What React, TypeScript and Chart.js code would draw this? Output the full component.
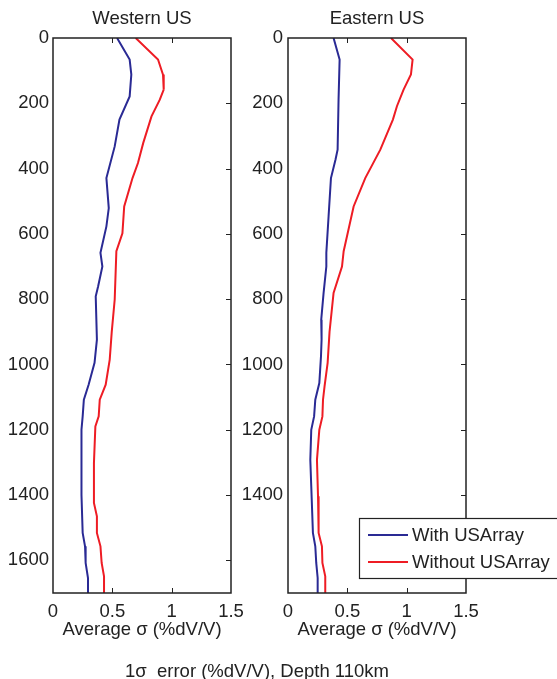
import React, { useEffect, useRef } from "react";
import { Chart, registerables } from "chart.js";
Chart.register(...registerables);

// ---- data ----
const Y_TICKS = [0, 200, 400, 600, 800, 1000, 1200, 1400, 1600];
const X_TICKS = [0, 0.5, 1, 1.5];
const SERIES_LABELS = ["With USArray", "Without USArray"];
const PANEL_TITLES = ["Western US", "Eastern US"];
const X_TITLE = "Average σ (%dV/V)";
const CAPTION = "1σ  error (%dV/V), Depth 110km";

const WEST_WITH_DEPTH = [0, 66, 112, 179, 250, 332, 429, 521, 577, 658, 700, 761, 791, 924, 995, 1062, 1108, 1159, 1200, 1300, 1400, 1516, 1557, 1608, 1654, 1700];
const WEST_WITH = [0.54, 0.646, 0.66, 0.646, 0.56, 0.52, 0.45, 0.47, 0.45, 0.40, 0.416, 0.38, 0.36, 0.37, 0.35, 0.30, 0.26, 0.25, 0.24, 0.24, 0.24, 0.25, 0.27, 0.275, 0.295, 0.295];

const WEST_WITHOUT_DEPTH = [0, 66, 112, 158, 189, 240, 322, 383, 429, 516, 598, 653, 801, 900, 985, 1062, 1108, 1159, 1190, 1302, 1424, 1465, 1516, 1557, 1608, 1649, 1700];
const WEST_WITHOUT = [0.697, 0.885, 0.927, 0.933, 0.90, 0.83, 0.76, 0.716, 0.67, 0.60, 0.585, 0.534, 0.52, 0.495, 0.478, 0.444, 0.394, 0.385, 0.357, 0.345, 0.345, 0.37, 0.37, 0.40, 0.41, 0.43, 0.43];

const EAST_WITH_DEPTH = [0, 66, 189, 342, 373, 429, 546, 658, 700, 781, 863, 924, 975, 1057, 1108, 1159, 1200, 1292, 1373, 1516, 1557, 1608, 1654, 1700];
const EAST_WITH = [0.384, 0.435, 0.426, 0.418, 0.40, 0.362, 0.342, 0.323, 0.323, 0.30, 0.28, 0.283, 0.278, 0.264, 0.23, 0.22, 0.196, 0.188, 0.196, 0.21, 0.23, 0.238, 0.25, 0.25];

const EAST_WITHOUT_DEPTH = [0, 66, 112, 158, 209, 250, 342, 429, 516, 653, 700, 781, 900, 995, 1067, 1108, 1159, 1200, 1292, 1404, 1516, 1557, 1608, 1649, 1700];
const EAST_WITHOUT = [0.868, 1.05, 1.036, 0.974, 0.918, 0.884, 0.778, 0.651, 0.553, 0.469, 0.455, 0.384, 0.35, 0.334, 0.308, 0.295, 0.29, 0.264, 0.244, 0.253, 0.258, 0.286, 0.29, 0.314, 0.314];

// ---- style ----
const W = 557;
const H = 679;
const FONT = '"Liberation Sans", Arial, Helvetica, sans-serif';
const FS = 18.5;
const TEXT = "#222222";
const BLUE = "#2a2a94";
const RED = "#ee1c24";

const toPoints = (depths: number[], vals: number[]) => vals.map((v, i) => ({ x: v, y: depths[i] }));

type PanelCfg = {
  title: string;
  withData: { x: number; y: number }[];
  withoutData: { x: number; y: number }[];
  padLeft: number;
  yWidth: number;
  padRight: number;
  yPad: number;
  hideYLabels: number[];
  caption?: { text: string; x: number; y: number };
  legend?: boolean;
};

function makePanel(canvas: HTMLCanvasElement, cfg: PanelCfg) {
  const plugin = {
    id: "panelDeco",
    afterDraw(chart: any) {
      const ctx = chart.ctx;
      const a = chart.chartArea;
      const xs = chart.scales.x;
      const ys = chart.scales.y;
      ctx.save();
      ctx.strokeStyle = TEXT;
      ctx.lineWidth = 1.5;
      ctx.strokeRect(a.left, a.top, a.right - a.left, a.bottom - a.top);
      ctx.lineWidth = 1;
      const tl = 5;
      ctx.beginPath();
      X_TICKS.slice(1, -1).forEach((v) => {
        const px = Math.round(xs.getPixelForValue(v)) + 0.5;
        ctx.moveTo(px, a.top);
        ctx.lineTo(px, a.top + tl);
        ctx.moveTo(px, a.bottom);
        ctx.lineTo(px, a.bottom - tl);
      });
      Y_TICKS.slice(1).forEach((v) => {
        const py = Math.round(ys.getPixelForValue(v)) + 0.5;
        ctx.moveTo(a.right, py);
        ctx.lineTo(a.right - tl, py);
      });
      ctx.stroke();

      const cx = (a.left + a.right) / 2;
      ctx.fillStyle = TEXT;
      ctx.font = `${FS}px ${FONT}`;
      ctx.textAlign = "center";
      ctx.textBaseline = "alphabetic";
      ctx.fillText(cfg.title, cx, 24);
      ctx.fillText(X_TITLE, cx, 635);
      if (cfg.caption) {
        ctx.textAlign = "left";
        ctx.fillText(cfg.caption.text, cfg.caption.x, cfg.caption.y);
      }
      if (cfg.legend) {
        const bx = 359.5, by = 518.5, bw = 210, bh = 60;
        ctx.fillStyle = "#ffffff";
        ctx.fillRect(bx, by, bw, bh);
        ctx.strokeStyle = TEXT;
        ctx.lineWidth = 1.2;
        ctx.strokeRect(bx, by, bw, bh);
        const rows = [535, 562];
        chart.data.datasets.forEach((ds: any, i: number) => {
          ctx.strokeStyle = ds.borderColor;
          ctx.lineWidth = 2;
          ctx.beginPath();
          ctx.moveTo(368, rows[i]);
          ctx.lineTo(408, rows[i]);
          ctx.stroke();
          ctx.fillStyle = TEXT;
          ctx.textAlign = "left";
          ctx.textBaseline = "middle";
          ctx.fillText(ds.label, 412, rows[i] + 1);
        });
      }
      ctx.restore();
    },
  };

  return new Chart(canvas, {
    type: "scatter",
    data: {
      datasets: [
        {
          label: SERIES_LABELS[0],
          data: cfg.withData,
          showLine: true,
          borderColor: BLUE,
          backgroundColor: BLUE,
          borderWidth: 2,
          pointRadius: 0,
          tension: 0,
        },
        {
          label: SERIES_LABELS[1],
          data: cfg.withoutData,
          showLine: true,
          borderColor: RED,
          backgroundColor: RED,
          borderWidth: 2,
          pointRadius: 0,
          tension: 0,
        },
      ],
    },
    options: {
      responsive: false,
      animation: false,
      devicePixelRatio: 1,
      events: [],
      layout: { padding: { left: cfg.padLeft, right: cfg.padRight, top: 38, bottom: 46 } },
      plugins: { legend: { display: false }, title: { display: false }, tooltip: { enabled: false } },
      scales: {
        x: {
          type: "linear",
          position: "bottom",
          min: 0,
          max: 1.5,
          afterBuildTicks: (s: any) => {
            s.ticks = X_TICKS.map((v) => ({ value: v }));
          },
          afterFit: (s: any) => {
            s.height = 40;
          },
          grid: { display: false, drawTicks: false },
          border: { display: false },
          ticks: {
            padding: 8,
            color: TEXT,
            font: { family: FONT, size: FS },
            maxRotation: 0,
            autoSkip: false,
            callback: (v: any) => String(v),
          },
        },
        y: {
          type: "linear",
          position: "left",
          reverse: true,
          min: 0,
          max: 1700,
          afterBuildTicks: (s: any) => {
            s.ticks = Y_TICKS.map((v) => ({ value: v }));
          },
          afterFit: (s: any) => {
            s.width = cfg.yWidth;
          },
          grid: { display: false, drawTicks: false },
          border: { display: false },
          ticks: {
            padding: cfg.yPad,
            color: TEXT,
            font: { family: FONT, size: FS },
            autoSkip: false,
            callback: (v: any) => (cfg.hideYLabels.includes(Number(v)) ? "" : String(v)),
          },
        },
      },
    },
    plugins: [plugin],
  } as any);
}

export default function App() {
  const refA = useRef<HTMLCanvasElement>(null);
  const refB = useRef<HTMLCanvasElement>(null);

  useEffect(() => {
    const a = makePanel(refA.current!, {
      title: PANEL_TITLES[0],
      withData: toPoints(WEST_WITH_DEPTH, WEST_WITH),
      withoutData: toPoints(WEST_WITHOUT_DEPTH, WEST_WITHOUT),
      padLeft: 0,
      yWidth: 53,
      padRight: W - 231,
      yPad: 4,
      hideYLabels: [],
      caption: { text: CAPTION, x: 125, y: 677 },
    });
    const b = makePanel(refB.current!, {
      title: PANEL_TITLES[1],
      withData: toPoints(EAST_WITH_DEPTH, EAST_WITH),
      withoutData: toPoints(EAST_WITHOUT_DEPTH, EAST_WITHOUT),
      padLeft: 238,
      yWidth: 50,
      padRight: W - 466,
      yPad: 5,
      hideYLabels: [1600],
      legend: true,
    });
    return () => {
      a.destroy();
      b.destroy();
    };
  }, []);

  const cs: React.CSSProperties = { position: "absolute", left: 0, top: 0, width: W, height: H };
  return (
    <div style={{ position: "absolute", left: 0, top: 0, width: W, height: H, background: "#fff", overflow: "hidden" }}>
      <canvas ref={refA} width={W} height={H} style={cs} />
      <canvas ref={refB} width={W} height={H} style={cs} />
    </div>
  );
}
